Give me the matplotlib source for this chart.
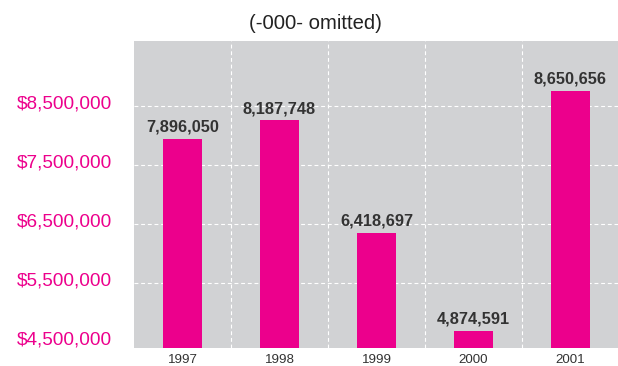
import matplotlib
matplotlib.use("Agg")
import matplotlib.pyplot as plt
import matplotlib.transforms as mtransforms
from matplotlib.ticker import FixedLocator

plt.rcParams['font.family'] = ['Liberation Sans', 'DejaVu Sans']

years = ['1997', '1998', '1999', '2000', '2001']
values = [7896050, 8187748, 6418697, 4874591, 8650656]
value_labels = ['7,896,050', '8,187,748', '6,418,697', '4,874,591', '8,650,656']
scale_ticks = [4500000, 5500000, 6500000, 7500000, 8500000]
scale_labels = ['$4,500,000', '$5,500,000', '$6,500,000', '$7,500,000', '$8,500,000']
title = '(-000- omitted)'

PINK = '#EC008C'
GRAY_BG = '#D1D2D4'
TEXT = '#333333'

fig = plt.figure(figsize=(6.18, 3.66), dpi=100)
pos = [134/618, 1 - 347.7/366, 485/618, 306.7/366]

# scale axes: background, gridlines, labels
ax = fig.add_axes(pos)
ax.set_facecolor(GRAY_BG)
for s in ax.spines.values():
    s.set_visible(False)
ax.set_xlim(-0.5, len(years) - 0.5)
ax.set_ylim(4401700, 9602000)
ax.set_yticks(scale_ticks)
ax.set_yticklabels(scale_labels)
ax.set_xticks(range(len(years)))
ax.set_xticklabels(years)
ax.xaxis.set_minor_locator(FixedLocator([i + 0.5 for i in range(len(years) - 1)]))
ax.tick_params(axis='y', length=0, pad=15.8, labelsize=13.7, labelcolor=PINK)
ax.tick_params(axis='x', which='both', length=0, pad=4.5, labelsize=9.6, labelcolor=TEXT)
ax.grid(axis='y', which='major', color='white', linewidth=0.8, linestyle=(0, (3.5, 2.5)))
ax.grid(axis='x', which='minor', color='white', linewidth=0.8, linestyle=(0, (3.5, 2.5)))
ax.grid(axis='x', which='major', visible=False)
ax.get_ygridlines()[0].set_visible(False)
offset = mtransforms.ScaledTranslation(0, 3/72, fig.dpi_scale_trans)
for lbl in ax.get_yticklabels():
    lbl.set_transform(lbl.get_transform() + offset)

# bar axes on top
axb = fig.add_axes(pos)
axb.patch.set_visible(False)
axb.set_xlim(-0.5, len(years) - 0.5)
axb.set_ylim(4609400, 9433300)
axb.axis('off')
x = list(range(len(years)))
axb.bar(x, values, width=0.406, color=PINK, zorder=2)
for xi, v, t in zip(x, values, value_labels):
    axb.annotate(t, (xi, v), xytext=(0, 3), textcoords='offset points',
                 ha='center', va='bottom', fontsize=11.8, fontweight='bold',
                 color=TEXT, clip_on=False)

fig.text(315/618, 1 - 23.6/366, title, ha='center', va='center', fontsize=14.6, color='#222222')

fig.savefig('out.png', dpi=100)
